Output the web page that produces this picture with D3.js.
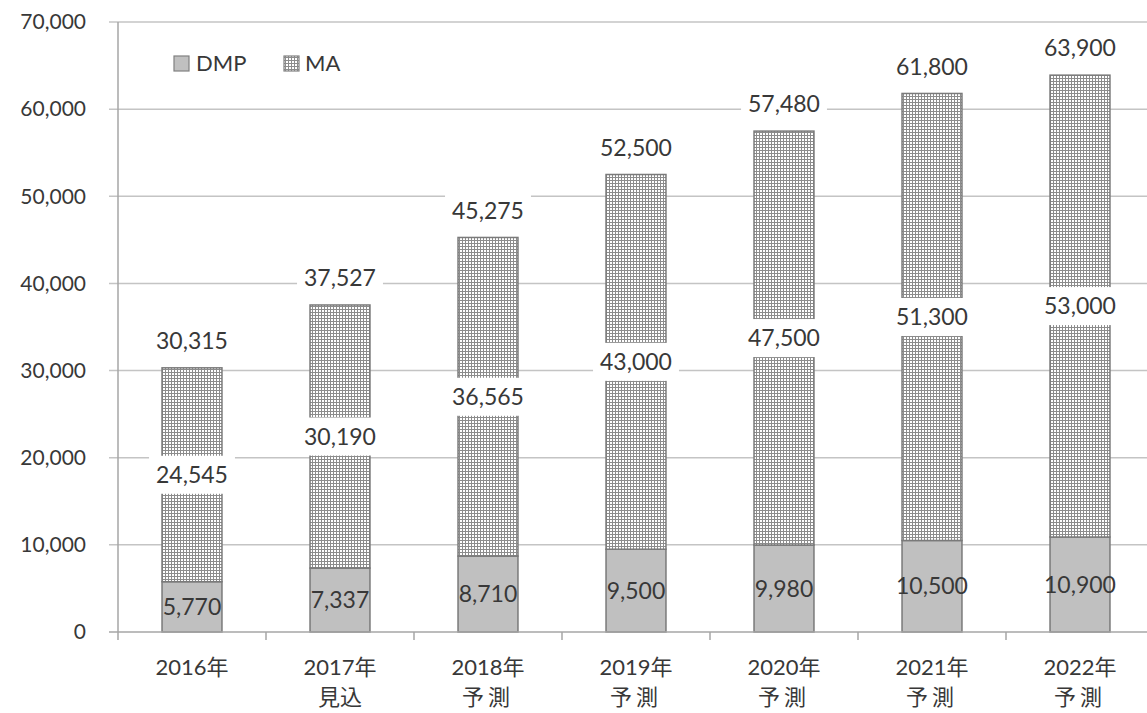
<!DOCTYPE html>
<html>
<head>
<meta charset="utf-8">
<script src="https://cdn.jsdelivr.net/npm/d3@7"></script>
<style>
  body { margin: 0; background: #fff; }
  text { font-family: Lato, "Noto Sans CJK JP", sans-serif; fill: #383838; }
</style>
</head>
<body>
<div id="chart"></div>
<script>
// data
const years = ["2016年", "2017年", "2018年", "2019年", "2020年", "2021年", "2022年"];
const subLabels = ["", "見込", "予測", "予測", "予測", "予測", "予測"];
const dmp = [5770, 7337, 8710, 9500, 9980, 10500, 10900];
const ma = [24545, 30190, 36565, 43000, 47500, 51300, 53000];
const totals = [30315, 37527, 45275, 52500, 57480, 61800, 63900];
const yTicks = [0, 10000, 20000, 30000, 40000, 50000, 60000, 70000];

const width = 1147, height = 713;
const margin = { top: 22, right: -7, bottom: 81, left: 118 };

const svg = d3.select("#chart").append("svg")
    .attr("width", width)
    .attr("height", height);

// cross hatch for MA
const defs = svg.append("defs");
const pat = defs.append("pattern")
    .attr("id", "hatch")
    .attr("patternUnits", "userSpaceOnUse")
    .attr("width", 6).attr("height", 6);
pat.append("rect").attr("width", 6).attr("height", 6).attr("fill", "#fff");
pat.append("path").attr("d", "M0,0.5H6M0,3.5H6").attr("stroke", "#8c8c8c").attr("stroke-width", 1);
pat.append("path").attr("d", "M0.5,0V6M3.5,0V6").attr("stroke", "#8c8c8c").attr("stroke-width", 1);

const x = d3.scaleBand()
    .domain(years)
    .range([margin.left, width - margin.right])
    .paddingInner(0.595)
    .paddingOuter(0.2975);

const y = d3.scaleLinear()
    .domain([0, 70000])
    .range([height - margin.bottom, margin.top]);

const fmt = d3.format(",");

// gridlines
svg.append("g")
    .selectAll("line")
    .data(yTicks.slice(1))
    .enter().append("line")
    .attr("x1", margin.left - 9)
    .attr("x2", width)
    .attr("y1", d => y(d)).attr("y2", d => y(d))
    .attr("stroke", "#c4c4c4")
    .attr("stroke-width", 1.5);

// y labels
svg.append("g")
    .selectAll("text")
    .data(yTicks)
    .enter().append("text")
    .attr("x", 86)
    .attr("y", d => y(d))
    .attr("dy", "0.35em")
    .attr("text-anchor", "end")
    .style("font-size", "21px")
    .text(d => fmt(d));

// y axis line + ticks
svg.append("line")
    .attr("x1", margin.left).attr("x2", margin.left)
    .attr("y1", y(70000)).attr("y2", y(0) + 8)
    .attr("stroke", "#a6a6a6").attr("stroke-width", 1.5);
svg.append("line")
    .attr("x1", margin.left - 9).attr("x2", margin.left)
    .attr("y1", y(0)).attr("y2", y(0))
    .attr("stroke", "#a6a6a6").attr("stroke-width", 1.5);

// bars
const g = svg.append("g");
g.selectAll(".dmp")
    .data(years)
    .enter().append("rect")
    .attr("class", "dmp")
    .attr("x", d => x(d))
    .attr("width", x.bandwidth())
    .attr("y", (d, i) => y(dmp[i]))
    .attr("height", (d, i) => y(0) - y(dmp[i]))
    .attr("fill", "#c0c0c0")
    .attr("stroke", "#7a7a7a")
    .attr("stroke-width", 1.5);

g.selectAll(".ma")
    .data(years)
    .enter().append("rect")
    .attr("class", "ma")
    .attr("x", d => x(d))
    .attr("width", x.bandwidth())
    .attr("y", (d, i) => y(dmp[i] + ma[i]))
    .attr("height", (d, i) => y(dmp[i]) - y(dmp[i] + ma[i]))
    .attr("fill", "url(#hatch)")
    .attr("stroke", "#7a7a7a")
    .attr("stroke-width", 1.5);

// x axis line and ticks between categories
svg.append("line")
    .attr("x1", margin.left).attr("x2", width)
    .attr("y1", y(0)).attr("y2", y(0))
    .attr("stroke", "#a6a6a6").attr("stroke-width", 1.5);
svg.append("g")
    .selectAll("line")
    .data(years.slice(1))
    .enter().append("line")
    .attr("x1", d => x(d) - x.step() * x.paddingInner() / 2)
    .attr("x2", d => x(d) - x.step() * x.paddingInner() / 2)
    .attr("y1", y(0)).attr("y2", y(0) + 8)
    .attr("stroke", "#a6a6a6").attr("stroke-width", 1.5);

// x labels
const xl = svg.append("g");
xl.selectAll(".yr")
    .data(years)
    .enter().append("text")
    .attr("x", d => x(d) + x.bandwidth() / 2)
    .attr("y", 667)
    .attr("dy", "0.35em")
    .attr("text-anchor", "middle")
    .style("font-size", "22px")
    .text(d => d);
xl.selectAll(".sub")
    .data(years)
    .enter().append("text")
    .attr("x", d => x(d) + x.bandwidth() / 2)
    .attr("y", 697)
    .attr("dy", "0.35em")
    .attr("text-anchor", "middle")
    .style("font-size", "22px")
    .style("letter-spacing", (d, i) => subLabels[i] === "予測" ? "4px" : "0px")
    .text((d, i) => subLabels[i]);

// labels with white boxes
function boxedLabel(sel) {
    sel.each(function (d) {
        const grp = d3.select(this);
        const t = grp.select("text");
        const w = t.node().getComputedTextLength();
        grp.insert("rect", "text")
            .attr("x", d.cx - w / 2 - 7)
            .attr("y", d.cy - 19)
            .attr("width", w + 14)
            .attr("height", 38)
            .attr("fill", "#fff");
    });
}

const maLabels = years.map((yr, i) => ({
    cx: x(yr) + x.bandwidth() / 2,
    cy: y(dmp[i] + ma[i] / 2),
    v: ma[i]
}));
const totLabels = years.map((yr, i) => ({
    cx: x(yr) + x.bandwidth() / 2,
    cy: y(totals[i]) - 27,
    v: totals[i]
}));

[maLabels, totLabels].forEach(arr => {
    const lg = svg.append("g").selectAll("g")
        .data(arr)
        .enter().append("g");
    lg.append("text")
        .attr("x", d => d.cx)
        .attr("y", d => d.cy)
        .attr("dy", "0.35em")
        .attr("text-anchor", "middle")
        .style("font-size", "23px")
        .text(d => fmt(d.v));
    lg.call(boxedLabel);
});

// DMP labels
svg.append("g")
    .selectAll("text")
    .data(years)
    .enter().append("text")
    .attr("x", d => x(d) + x.bandwidth() / 2)
    .attr("y", (d, i) => y(dmp[i] / 2))
    .attr("dy", "0.35em")
    .attr("text-anchor", "middle")
    .style("font-size", "23px")
    .text((d, i) => fmt(dmp[i]));

// legend
const legend = svg.append("g");
const legendItems = [
    { name: "DMP", fill: "#c0c0c0", sx: 174, tx: 196 },
    { name: "MA", fill: "url(#hatch)", sx: 284, tx: 305 }
];
legend.selectAll("rect")
    .data(legendItems)
    .enter().append("rect")
    .attr("x", d => d.sx)
    .attr("y", 56)
    .attr("width", 15).attr("height", 15)
    .attr("fill", d => d.fill)
    .attr("stroke", "#808080")
    .attr("stroke-width", 1.2);
legend.selectAll("text")
    .data(legendItems)
    .enter().append("text")
    .attr("x", d => d.tx)
    .attr("y", 63)
    .attr("dy", "0.35em")
    .style("font-size", "22px")
    .text(d => d.name);
</script>
</body>
</html>
